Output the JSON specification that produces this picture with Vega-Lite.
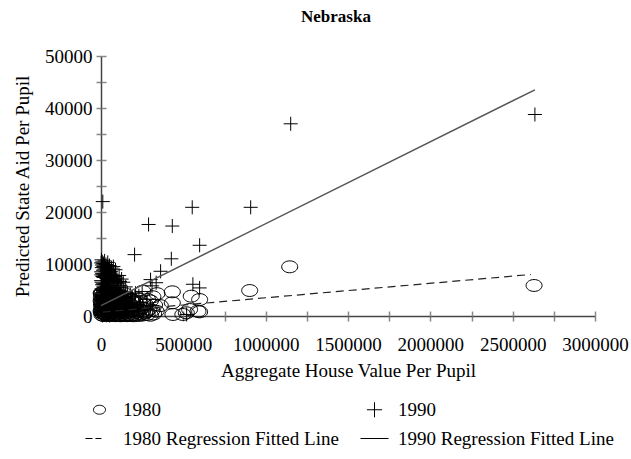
{
  "$schema": "https://vega.github.io/schema/vega-lite/v6.json",
  "autosize": {"type": "none"},
  "padding": {"left": 101, "top": 56, "right": 36, "bottom": 143},
  "width": 494,
  "height": 260,
  "background": "white",
  "title": {"text": "Nebraska", "font": "Liberation Serif", "fontSize": 17, "fontWeight": "bold", "color": "black", "anchor": "middle", "frame": "group", "dx": -12, "offset": 21},
  "config": {
    "view": {"stroke": null},
    "axis": {"labelFont": "Liberation Serif", "titleFont": "Liberation Serif", "labelFontSize": 19, "titleFontSize": 19, "titleFontWeight": "normal", "labelColor": "black", "titleColor": "black", "grid": false, "domainColor": "#444", "domainWidth": 1.5, "tickColor": "#888", "tickWidth": 1.5},
    "legend": {"labelFont": "Liberation Serif", "labelFontSize": 19, "labelColor": "black", "labelLimit": 0}
  },
  "datasets": {
    "pts": [
      {"yr": "1990", "x": 1152000, "y": 36960}, {"yr": "1990", "x": 2635000, "y": 38750}, {"yr": "1990", "x": 11000, "y": 22000}, {"yr": "1990", "x": 289000, "y": 17600}, {"yr": "1990", "x": 433000, "y": 17300}, {"yr": "1990", "x": 554000, "y": 20900}, {"yr": "1990", "x": 909000, "y": 20900}, {"yr": "1990", "x": 599000, "y": 13600}, {"yr": "1990", "x": 204000, "y": 11800}, {"yr": "1990", "x": 427000, "y": 11000}, {"yr": "1990", "x": 362000, "y": 8600}, {"yr": "1990", "x": 301000, "y": 7000}, {"yr": "1990", "x": 558000, "y": 6100}, {"yr": "1990", "x": 599000, "y": 5400},
      {"yr": "1990", "x": 310000, "y": 5800}, {"yr": "1990", "x": 335000, "y": 6400}, {"yr": "1990", "x": 280000, "y": 3200}, {"yr": "1990", "x": 300000, "y": 2000}, {"yr": "1990", "x": 260000, "y": 1200}, {"yr": "1990", "x": 520000, "y": 300},
      {"yr": "1990", "x": 3000, "y": 10800}, {"yr": "1990", "x": 8000, "y": 10400}, {"yr": "1990", "x": 15000, "y": 10100}, {"yr": "1990", "x": 22000, "y": 10600}, {"yr": "1990", "x": 30000, "y": 9900}, {"yr": "1990", "x": 41000, "y": 10300}, {"yr": "1990", "x": 52000, "y": 9700}, {"yr": "1990", "x": 64000, "y": 9200}, {"yr": "1990", "x": 75000, "y": 9500}, {"yr": "1990", "x": 88000, "y": 8900},
      {"yr": "1990", "x": 5000, "y": 9300}, {"yr": "1990", "x": 12000, "y": 8800}, {"yr": "1990", "x": 19000, "y": 9000}, {"yr": "1990", "x": 27000, "y": 8500}, {"yr": "1990", "x": 36000, "y": 8700}, {"yr": "1990", "x": 46000, "y": 8300}, {"yr": "1990", "x": 57000, "y": 8100}, {"yr": "1990", "x": 69000, "y": 7900}, {"yr": "1990", "x": 82000, "y": 7600}, {"yr": "1990", "x": 96000, "y": 7300}, {"yr": "1990", "x": 110000, "y": 7800}, {"yr": "1990", "x": 125000, "y": 7100},
      {"yr": "1990", "x": 2000, "y": 7900}, {"yr": "1990", "x": 9000, "y": 7600}, {"yr": "1990", "x": 16000, "y": 7400}, {"yr": "1990", "x": 24000, "y": 7700}, {"yr": "1990", "x": 33000, "y": 7200}, {"yr": "1990", "x": 43000, "y": 7000}, {"yr": "1990", "x": 54000, "y": 6800}, {"yr": "1990", "x": 66000, "y": 6600}, {"yr": "1990", "x": 78000, "y": 6900}, {"yr": "1990", "x": 92000, "y": 6400}, {"yr": "1990", "x": 105000, "y": 6200}, {"yr": "1990", "x": 118000, "y": 5900}, {"yr": "1990", "x": 135000, "y": 6500}, {"yr": "1990", "x": 150000, "y": 5600},
      {"yr": "1990", "x": 4000, "y": 6500}, {"yr": "1990", "x": 11000, "y": 6200}, {"yr": "1990", "x": 18000, "y": 6000}, {"yr": "1990", "x": 26000, "y": 6300}, {"yr": "1990", "x": 35000, "y": 5800}, {"yr": "1990", "x": 45000, "y": 5600}, {"yr": "1990", "x": 56000, "y": 5900}, {"yr": "1990", "x": 68000, "y": 5400}, {"yr": "1990", "x": 80000, "y": 5200}, {"yr": "1990", "x": 94000, "y": 5500}, {"yr": "1990", "x": 108000, "y": 5000}, {"yr": "1990", "x": 122000, "y": 4800}, {"yr": "1990", "x": 140000, "y": 4600}, {"yr": "1990", "x": 160000, "y": 4400}, {"yr": "1990", "x": 178000, "y": 4100},
      {"yr": "1990", "x": 3000, "y": 5200}, {"yr": "1990", "x": 10000, "y": 4900}, {"yr": "1990", "x": 17000, "y": 5000}, {"yr": "1990", "x": 25000, "y": 4700}, {"yr": "1990", "x": 34000, "y": 4500}, {"yr": "1990", "x": 44000, "y": 4800}, {"yr": "1990", "x": 55000, "y": 4300}, {"yr": "1990", "x": 67000, "y": 4100}, {"yr": "1990", "x": 79000, "y": 4400}, {"yr": "1990", "x": 91000, "y": 3900}, {"yr": "1990", "x": 104000, "y": 4200}, {"yr": "1990", "x": 117000, "y": 3700}, {"yr": "1990", "x": 132000, "y": 3500}, {"yr": "1990", "x": 148000, "y": 3800}, {"yr": "1990", "x": 166000, "y": 3300}, {"yr": "1990", "x": 190000, "y": 3600}, {"yr": "1990", "x": 210000, "y": 4400}, {"yr": "1990", "x": 230000, "y": 3900}, {"yr": "1990", "x": 250000, "y": 4700},
      {"yr": "1990", "x": 2000, "y": 4000}, {"yr": "1990", "x": 8000, "y": 3700}, {"yr": "1990", "x": 15000, "y": 3500}, {"yr": "1990", "x": 23000, "y": 3800}, {"yr": "1990", "x": 31000, "y": 3300}, {"yr": "1990", "x": 40000, "y": 3600}, {"yr": "1990", "x": 50000, "y": 3100}, {"yr": "1990", "x": 61000, "y": 3400}, {"yr": "1990", "x": 73000, "y": 2900}, {"yr": "1990", "x": 86000, "y": 3200}, {"yr": "1990", "x": 99000, "y": 2800}, {"yr": "1990", "x": 113000, "y": 3000}, {"yr": "1990", "x": 128000, "y": 2600}, {"yr": "1990", "x": 145000, "y": 2900}, {"yr": "1990", "x": 162000, "y": 2400}, {"yr": "1990", "x": 182000, "y": 2700}, {"yr": "1990", "x": 205000, "y": 2200},
      {"yr": "1990", "x": 6000, "y": 2800}, {"yr": "1990", "x": 13000, "y": 2500}, {"yr": "1990", "x": 21000, "y": 2700}, {"yr": "1990", "x": 29000, "y": 2300}, {"yr": "1990", "x": 38000, "y": 2600}, {"yr": "1990", "x": 48000, "y": 2100}, {"yr": "1990", "x": 59000, "y": 2400}, {"yr": "1990", "x": 71000, "y": 1900}, {"yr": "1990", "x": 84000, "y": 2200}, {"yr": "1990", "x": 97000, "y": 1700}, {"yr": "1990", "x": 111000, "y": 2000}, {"yr": "1990", "x": 126000, "y": 1600}, {"yr": "1990", "x": 143000, "y": 1800}, {"yr": "1990", "x": 160000, "y": 1400},
      {"yr": "1990", "x": 4000, "y": 1800}, {"yr": "1990", "x": 11000, "y": 1500}, {"yr": "1990", "x": 19000, "y": 1700}, {"yr": "1990", "x": 27000, "y": 1300}, {"yr": "1990", "x": 36000, "y": 1600}, {"yr": "1990", "x": 46000, "y": 1100}, {"yr": "1990", "x": 57000, "y": 1400}, {"yr": "1990", "x": 69000, "y": 900}, {"yr": "1990", "x": 82000, "y": 1200}, {"yr": "1990", "x": 95000, "y": 800}, {"yr": "1990", "x": 109000, "y": 1000}, {"yr": "1990", "x": 124000, "y": 700}, {"yr": "1990", "x": 140000, "y": 900},
      {"yr": "1990", "x": 3000, "y": 900}, {"yr": "1990", "x": 10000, "y": 600}, {"yr": "1990", "x": 18000, "y": 800}, {"yr": "1990", "x": 26000, "y": 400}, {"yr": "1990", "x": 35000, "y": 700}, {"yr": "1990", "x": 45000, "y": 300}, {"yr": "1990", "x": 56000, "y": 500}, {"yr": "1990", "x": 68000, "y": 200}, {"yr": "1990", "x": 80000, "y": 400}, {"yr": "1990", "x": 2000, "y": 300}, {"yr": "1990", "x": 9000, "y": 100}, {"yr": "1990", "x": 17000, "y": 200}, {"yr": "1990", "x": 32000, "y": 150}, {"yr": "1990", "x": 52000, "y": 100},
      {"yr": "1990", "x": 1000, "y": 10200}, {"yr": "1990", "x": 6000, "y": 9800}, {"yr": "1990", "x": 14000, "y": 9500}, {"yr": "1990", "x": 21000, "y": 9600}, {"yr": "1990", "x": 28000, "y": 9200}, {"yr": "1990", "x": 38000, "y": 9400}, {"yr": "1990", "x": 47000, "y": 9000}, {"yr": "1990", "x": 60000, "y": 8600}, {"yr": "1990", "x": 1000, "y": 8500}, {"yr": "1990", "x": 7000, "y": 8200}, {"yr": "1990", "x": 14000, "y": 7900}, {"yr": "1990", "x": 21000, "y": 8100}, {"yr": "1990", "x": 29000, "y": 7800}, {"yr": "1990", "x": 39000, "y": 7600}, {"yr": "1990", "x": 49000, "y": 7500}, {"yr": "1990", "x": 61000, "y": 7300}, {"yr": "1990", "x": 73000, "y": 7100}, {"yr": "1990", "x": 86000, "y": 6900}, {"yr": "1990", "x": 100000, "y": 6700}, {"yr": "1990", "x": 115000, "y": 6600},
      {"yr": "1990", "x": 1000, "y": 6800}, {"yr": "1990", "x": 7000, "y": 6000}, {"yr": "1990", "x": 14000, "y": 5600}, {"yr": "1990", "x": 21000, "y": 5400}, {"yr": "1990", "x": 29000, "y": 5100}, {"yr": "1990", "x": 39000, "y": 5200}, {"yr": "1990", "x": 50000, "y": 5000}, {"yr": "1990", "x": 62000, "y": 4700}, {"yr": "1990", "x": 74000, "y": 4900}, {"yr": "1990", "x": 87000, "y": 4600}, {"yr": "1990", "x": 99000, "y": 4500}, {"yr": "1990", "x": 113000, "y": 4300}, {"yr": "1990", "x": 127000, "y": 4000},
      {"yr": "1990", "x": 1000, "y": 3200}, {"yr": "1990", "x": 6000, "y": 3000}, {"yr": "1990", "x": 12000, "y": 3300}, {"yr": "1990", "x": 20000, "y": 3100}, {"yr": "1990", "x": 27000, "y": 2900}, {"yr": "1990", "x": 35000, "y": 3000}, {"yr": "1990", "x": 44000, "y": 2800}, {"yr": "1990", "x": 54000, "y": 2700}, {"yr": "1990", "x": 65000, "y": 2600}, {"yr": "1990", "x": 77000, "y": 2500}, {"yr": "1990", "x": 90000, "y": 2400}, {"yr": "1990", "x": 103000, "y": 2300}, {"yr": "1990", "x": 118000, "y": 2200}, {"yr": "1990", "x": 135000, "y": 2100}, {"yr": "1990", "x": 152000, "y": 2000}, {"yr": "1990", "x": 172000, "y": 1900}, {"yr": "1990", "x": 190000, "y": 1700},
      {"yr": "1990", "x": 1000, "y": 2200}, {"yr": "1990", "x": 8000, "y": 2000}, {"yr": "1990", "x": 16000, "y": 1000}, {"yr": "1990", "x": 24000, "y": 1000}, {"yr": "1990", "x": 33000, "y": 1200}, {"yr": "1990", "x": 42000, "y": 900}, {"yr": "1990", "x": 52000, "y": 800}, {"yr": "1990", "x": 63000, "y": 700}, {"yr": "1990", "x": 75000, "y": 700}, {"yr": "1990", "x": 88000, "y": 500}, {"yr": "1990", "x": 102000, "y": 400}, {"yr": "1990", "x": 117000, "y": 300}, {"yr": "1990", "x": 133000, "y": 300}, {"yr": "1990", "x": 150000, "y": 200}, {"yr": "1990", "x": 170000, "y": 600}, {"yr": "1990", "x": 195000, "y": 900}, {"yr": "1990", "x": 220000, "y": 1500}, {"yr": "1990", "x": 240000, "y": 2600},
      {"yr": "1980", "x": 2630000, "y": 5870}, {"yr": "1980", "x": 1146000, "y": 9460}, {"yr": "1980", "x": 903000, "y": 4900}, {"yr": "1980", "x": 548000, "y": 3810}, {"yr": "1980", "x": 599000, "y": 3170}, {"yr": "1980", "x": 538000, "y": 1250}, {"yr": "1980", "x": 599000, "y": 800}, {"yr": "1980", "x": 497000, "y": 290}, {"yr": "1980", "x": 433000, "y": 4650}, {"yr": "1980", "x": 433000, "y": 2540}, {"yr": "1980", "x": 437000, "y": 290}, {"yr": "1980", "x": 518000, "y": 620}, {"yr": "1980", "x": 589000, "y": 920}, {"yr": "1980", "x": 335000, "y": 920}, {"yr": "1980", "x": 283000, "y": 3170}, {"yr": "1980", "x": 254000, "y": 4770}, {"yr": "1980", "x": 340000, "y": 4300}, {"yr": "1980", "x": 360000, "y": 2000}, {"yr": "1980", "x": 320000, "y": 400}, {"yr": "1980", "x": 300000, "y": 2900},
      {"yr": "1980", "x": 3000, "y": 4200}, {"yr": "1980", "x": 12000, "y": 4000}, {"yr": "1980", "x": 22000, "y": 4300}, {"yr": "1980", "x": 34000, "y": 3900}, {"yr": "1980", "x": 47000, "y": 4100}, {"yr": "1980", "x": 60000, "y": 3800}, {"yr": "1980", "x": 75000, "y": 4000}, {"yr": "1980", "x": 90000, "y": 3700},
      {"yr": "1980", "x": 2000, "y": 3500}, {"yr": "1980", "x": 10000, "y": 3300}, {"yr": "1980", "x": 19000, "y": 3600}, {"yr": "1980", "x": 29000, "y": 3200}, {"yr": "1980", "x": 40000, "y": 3400}, {"yr": "1980", "x": 52000, "y": 3000}, {"yr": "1980", "x": 65000, "y": 3300}, {"yr": "1980", "x": 80000, "y": 2900}, {"yr": "1980", "x": 96000, "y": 3100}, {"yr": "1980", "x": 112000, "y": 2800}, {"yr": "1980", "x": 130000, "y": 3000}, {"yr": "1980", "x": 148000, "y": 2600},
      {"yr": "1980", "x": 5000, "y": 2800}, {"yr": "1980", "x": 14000, "y": 2600}, {"yr": "1980", "x": 24000, "y": 2900}, {"yr": "1980", "x": 35000, "y": 2500}, {"yr": "1980", "x": 46000, "y": 2700}, {"yr": "1980", "x": 58000, "y": 2300}, {"yr": "1980", "x": 71000, "y": 2600}, {"yr": "1980", "x": 85000, "y": 2200}, {"yr": "1980", "x": 100000, "y": 2400}, {"yr": "1980", "x": 117000, "y": 2100}, {"yr": "1980", "x": 135000, "y": 2300}, {"yr": "1980", "x": 155000, "y": 2000}, {"yr": "1980", "x": 175000, "y": 2200}, {"yr": "1980", "x": 195000, "y": 1900},
      {"yr": "1980", "x": 3000, "y": 2100}, {"yr": "1980", "x": 11000, "y": 1900}, {"yr": "1980", "x": 20000, "y": 2200}, {"yr": "1980", "x": 31000, "y": 1800}, {"yr": "1980", "x": 42000, "y": 2000}, {"yr": "1980", "x": 54000, "y": 1600}, {"yr": "1980", "x": 67000, "y": 1900}, {"yr": "1980", "x": 81000, "y": 1500}, {"yr": "1980", "x": 96000, "y": 1700}, {"yr": "1980", "x": 113000, "y": 1400}, {"yr": "1980", "x": 131000, "y": 1600}, {"yr": "1980", "x": 150000, "y": 1300}, {"yr": "1980", "x": 170000, "y": 1500}, {"yr": "1980", "x": 190000, "y": 1200}, {"yr": "1980", "x": 212000, "y": 1400}, {"yr": "1980", "x": 235000, "y": 1100},
      {"yr": "1980", "x": 4000, "y": 1400}, {"yr": "1980", "x": 13000, "y": 1200}, {"yr": "1980", "x": 23000, "y": 1500}, {"yr": "1980", "x": 33000, "y": 1100}, {"yr": "1980", "x": 44000, "y": 1300}, {"yr": "1980", "x": 56000, "y": 900}, {"yr": "1980", "x": 69000, "y": 1200}, {"yr": "1980", "x": 84000, "y": 800}, {"yr": "1980", "x": 99000, "y": 1000}, {"yr": "1980", "x": 116000, "y": 700}, {"yr": "1980", "x": 134000, "y": 900}, {"yr": "1980", "x": 153000, "y": 600}, {"yr": "1980", "x": 173000, "y": 800}, {"yr": "1980", "x": 195000, "y": 500}, {"yr": "1980", "x": 218000, "y": 700}, {"yr": "1980", "x": 242000, "y": 400}, {"yr": "1980", "x": 265000, "y": 600},
      {"yr": "1980", "x": 2000, "y": 700}, {"yr": "1980", "x": 9000, "y": 500}, {"yr": "1980", "x": 18000, "y": 800}, {"yr": "1980", "x": 28000, "y": 400}, {"yr": "1980", "x": 39000, "y": 600}, {"yr": "1980", "x": 51000, "y": 300}, {"yr": "1980", "x": 64000, "y": 500}, {"yr": "1980", "x": 78000, "y": 200}, {"yr": "1980", "x": 93000, "y": 400}, {"yr": "1980", "x": 109000, "y": 150}, {"yr": "1980", "x": 126000, "y": 300}, {"yr": "1980", "x": 145000, "y": 100}, {"yr": "1980", "x": 165000, "y": 250}, {"yr": "1980", "x": 186000, "y": 100}, {"yr": "1980", "x": 208000, "y": 200}, {"yr": "1980", "x": 230000, "y": 100}, {"yr": "1980", "x": 255000, "y": 200}, {"yr": "1980", "x": 280000, "y": 300}, {"yr": "1980", "x": 300000, "y": 150},
      {"yr": "1980", "x": 6000, "y": 200}, {"yr": "1980", "x": 15000, "y": 100}, {"yr": "1980", "x": 26000, "y": 250}, {"yr": "1980", "x": 37000, "y": 100}, {"yr": "1980", "x": 48000, "y": 200}, {"yr": "1980", "x": 60000, "y": 80}, {"yr": "1980", "x": 73000, "y": 150}, {"yr": "1980", "x": 88000, "y": 60}, {"yr": "1980", "x": 104000, "y": 120}, {"yr": "1980", "x": 120000, "y": 50}, {"yr": "1980", "x": 138000, "y": 150}, {"yr": "1980", "x": 158000, "y": 60}, {"yr": "1980", "x": 178000, "y": 120}, {"yr": "1980", "x": 200000, "y": 50},
      {"yr": "1980", "x": 222000, "y": 900}, {"yr": "1980", "x": 248000, "y": 1600}, {"yr": "1980", "x": 270000, "y": 2200}, {"yr": "1980", "x": 290000, "y": 1300}, {"yr": "1980", "x": 210000, "y": 2600}, {"yr": "1980", "x": 230000, "y": 3300}, {"yr": "1980", "x": 182000, "y": 3100}, {"yr": "1980", "x": 160000, "y": 3600}, {"yr": "1980", "x": 120000, "y": 3900}, {"yr": "1980", "x": 140000, "y": 4300},
      {"yr": "1980", "x": 1000, "y": 4400}, {"yr": "1980", "x": 8000, "y": 4500}, {"yr": "1980", "x": 17000, "y": 4100}, {"yr": "1980", "x": 27000, "y": 4000}, {"yr": "1980", "x": 38000, "y": 4400}, {"yr": "1980", "x": 52000, "y": 4300}, {"yr": "1980", "x": 68000, "y": 4200}, {"yr": "1980", "x": 84000, "y": 4400}, {"yr": "1980", "x": 100000, "y": 4100},
      {"yr": "1980", "x": 1000, "y": 2900}, {"yr": "1980", "x": 7000, "y": 2400}, {"yr": "1980", "x": 16000, "y": 3000}, {"yr": "1980", "x": 26000, "y": 2700}, {"yr": "1980", "x": 37000, "y": 2900}, {"yr": "1980", "x": 49000, "y": 2500}, {"yr": "1980", "x": 62000, "y": 2800}, {"yr": "1980", "x": 77000, "y": 2700}, {"yr": "1980", "x": 92000, "y": 2600}, {"yr": "1980", "x": 108000, "y": 2900}, {"yr": "1980", "x": 125000, "y": 2500}, {"yr": "1980", "x": 142000, "y": 2800}, {"yr": "1980", "x": 165000, "y": 2500}, {"yr": "1980", "x": 188000, "y": 2700},
      {"yr": "1980", "x": 1000, "y": 1000}, {"yr": "1980", "x": 7000, "y": 1100}, {"yr": "1980", "x": 16000, "y": 1300}, {"yr": "1980", "x": 26000, "y": 1000}, {"yr": "1980", "x": 36000, "y": 1400}, {"yr": "1980", "x": 47000, "y": 1000}, {"yr": "1980", "x": 59000, "y": 1200}, {"yr": "1980", "x": 72000, "y": 1000}, {"yr": "1980", "x": 87000, "y": 1300}, {"yr": "1980", "x": 103000, "y": 1200}, {"yr": "1980", "x": 120000, "y": 1100}, {"yr": "1980", "x": 140000, "y": 1200}, {"yr": "1980", "x": 160000, "y": 1000}, {"yr": "1980", "x": 182000, "y": 1000}, {"yr": "1980", "x": 205000, "y": 1000}, {"yr": "1980", "x": 228000, "y": 1300}, {"yr": "1980", "x": 250000, "y": 900}, {"yr": "1980", "x": 275000, "y": 800}, {"yr": "1980", "x": 310000, "y": 1100}, {"yr": "1980", "x": 325000, "y": 2100}, {"yr": "1980", "x": 315000, "y": 3700}
    ],
    "fit": [
      {"line": "1990", "x": 0, "y": 2000}, {"line": "1990", "x": 2635000, "y": 43500},
      {"line": "1980", "x": 10000, "y": 750}, {"line": "1980", "x": 2610000, "y": 7980}
    ]
  },
  "resolve": {"axis": {"x": "independent", "y": "independent"}},
  "layer": [
    {
      "data": {"name": "pts"},
      "transform": [{"filter": "datum.yr === '1980'"}],
      "mark": {"type": "point", "filled": false, "stroke": "black", "strokeWidth": 1, "size": 1385, "opacity": 1},
      "encoding": {
        "x": {"field": "x", "type": "quantitative", "scale": {"domain": [0, 3000000], "nice": false},
          "axis": {"orient": "bottom", "title": "Aggregate House Value Per Pupil", "values": [0, 250000, 500000, 750000, 1000000, 1250000, 1500000, 1750000, 2000000, 2250000, 2500000, 2750000, 3000000], "format": "d", "labelExpr": "datum.value % 500000 === 0 ? datum.label : ''", "tickSize": 5, "labelPadding": 14, "labelFlush": false, "labelOverlap": false, "titlePadding": 7}},
        "y": {"field": "y", "type": "quantitative", "scale": {"domain": [0, 50000], "nice": false},
          "axis": {"orient": "left", "title": "Predicted State Aid Per Pupil", "values": [0, 5000, 10000, 15000, 20000, 25000, 30000, 35000, 40000, 45000, 50000], "format": "d", "labelExpr": "datum.value % 10000 === 0 ? datum.label : ''", "tickSize": 5, "labelPadding": 4, "labelFlush": false, "labelOverlap": false, "titlePadding": 12}},
        "shape": {"field": "yr", "type": "nominal", "title": null,
          "sort": ["1980", "1990", "1980 Regression Fitted Line", "1990 Regression Fitted Line"],
          "scale": {"domain": ["1980", "1990", "1980 Regression Fitted Line", "1990 Regression Fitted Line"],
            "range": ["M-0.43,0A0.43,0.32 0 1,0 0.43,0A0.43,0.32 0 1,0 -0.43,0Z", "M-0.54,0H0.54M0,-0.54V0.54", "M-1,0H-0.5M-0.29,0H0.14", "M-1,0H1"]},
          "legend": {"orient": "none", "direction": "horizontal", "legendX": -16, "legendY": 339, "columns": 2, "symbolSize": 784, "symbolStrokeWidth": 1, "symbolStrokeColor": "black", "symbolFillColor": "transparent", "labelOffset": 9, "columnPadding": 19, "rowPadding": 4, "padding": 0, "labelLimit": 0}}
      }
    },
    {
      "data": {"name": "pts"},
      "transform": [{"filter": "datum.yr === '1990'"}],
      "mark": {"type": "point", "filled": false, "stroke": "black", "strokeWidth": 1, "size": 676, "opacity": 1},
      "encoding": {
        "x": {"field": "x", "type": "quantitative", "axis": null},
        "y": {"field": "y", "type": "quantitative", "axis": null},
        "shape": {"field": "yr", "type": "nominal", "sort": ["1980", "1990", "1980 Regression Fitted Line", "1990 Regression Fitted Line"]}
      }
    },
    {
      "data": {"name": "fit"},
      "transform": [{"filter": "datum.line === '1990'"}],
      "mark": {"type": "line", "color": "#555", "strokeWidth": 1.5},
      "encoding": {
        "x": {"field": "x", "type": "quantitative",
          "axis": {"orient": "bottom", "title": null, "labels": false, "domain": false, "values": [0, 250000, 500000, 750000, 1000000, 1250000, 1500000, 1750000, 2000000, 2250000, 2500000, 2750000, 3000000], "tickSize": -5}},
        "y": {"field": "y", "type": "quantitative",
          "axis": {"orient": "left", "title": null, "labels": false, "domain": false, "values": [0, 5000, 10000, 15000, 20000, 25000, 30000, 35000, 40000, 45000, 50000], "tickSize": -5}}
      }
    },
    {
      "data": {"name": "fit"},
      "transform": [{"filter": "datum.line === '1980'"}],
      "mark": {"type": "line", "color": "#222", "strokeWidth": 1.2, "strokeDash": [8, 5]},
      "encoding": {
        "x": {"field": "x", "type": "quantitative", "axis": null},
        "y": {"field": "y", "type": "quantitative", "axis": null}
      }
    }
  ]
}
